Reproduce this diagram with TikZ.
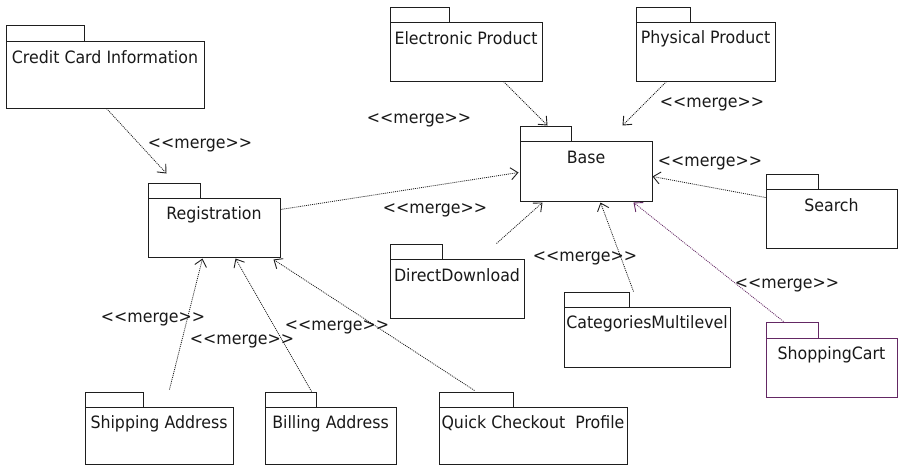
\documentclass[tikz,border=0pt]{standalone}
\usepackage{fontspec}
\setmainfont[FakeStretch=0.93]{DejaVu Sans}
\usetikzlibrary{arrows.meta,fit,calc}
\definecolor{umlpurple}{RGB}{100,40,100}
\definecolor{umlline}{RGB}{30,30,30}
\tikzset{
  pkg/.style={draw=umlline, line width=1pt, inner sep=0pt, fill=white},
  pkgtext/.style={font=\fontsize{17}{19}\selectfont, inner sep=0pt, text=black!90},
  mergelbl/.style={font=\fontsize{17}{19}\selectfont, inner sep=0pt, text=black!90},
  merge/.style={draw=umlline, line width=0.8pt, dash pattern=on 1pt off 1pt,
    -{Straight Barb[length=7pt,width=12pt,line width=0.9pt]}},
}
\begin{document}
\begin{tikzpicture}[x=1pt,y=-1pt]
\useasboundingbox[fill=white] (0,0) rectangle (898,466);

% packages
\node (ccitab) [pkg, fit={(6,25)(84,41)}] {};
\node (cci) [pkg, fit={(6,41)(204,108)}] {};
\node (ccit) [pkgtext] at ($(cci.north)+(0,17)$) {Credit Card Information};

\node (eptab) [pkg, fit={(390,7)(449,22)}] {};
\node (ep) [pkg, fit={(390,22)(542,81)}] {};
\node (ept) [pkgtext] at ($(ep.north)+(0,17)$) {Electronic Product};

\node (pptab) [pkg, fit={(636,7)(690,22)}] {};
\node (pp) [pkg, fit={(636,22)(775,81)}] {};
\node (ppt) [pkgtext] at ($(pp.north)+(0,17)$) {Physical Product};

\node (basetab) [pkg, fit={(520,126)(571,141)}] {};
\node (base) [pkg, fit={(520,141)(652,201)}] {};
\node (baset) [pkgtext] at ($(base.north)+(0,17)$) {Base};

\node (regtab) [pkg, fit={(148,183)(200,198)}] {};
\node (reg) [pkg, fit={(148,198)(280,257)}] {};
\node (regt) [pkgtext] at ($(reg.north)+(0,17)$) {Registration};

\node (searchtab) [pkg, fit={(766,174)(818,189)}] {};
\node (search) [pkg, fit={(766,189)(897,248)}] {};
\node (searcht) [pkgtext] at ($(search.north)+(0,17)$) {Search};

\node (ddtab) [pkg, fit={(390,244)(442,259)}] {};
\node (dd) [pkg, fit={(390,259)(524,318)}] {};
\node (ddt) [pkgtext] at ($(dd.north)+(0,17)$) {DirectDownload};

\node (cmtab) [pkg, fit={(564,292)(629,307)}] {};
\node (cm) [pkg, fit={(564,307)(730,367)}] {};
\node (cmt) [pkgtext] at ($(cm.north)+(0,17)$) {CategoriesMultilevel};

\node (sctab) [pkg, draw=umlpurple, fit={(766,322)(818,338)}] {};
\node (sc) [pkg, draw=umlpurple, fit={(766,338)(897,397)}] {};
\node (sct) [pkgtext] at ($(sc.north)+(0,17)$) {ShoppingCart};

\node (shiptab) [pkg, fit={(85,392)(143,407)}] {};
\node (ship) [pkg, fit={(85,407)(233,464)}] {};
\node (shipt) [pkgtext] at ($(ship.north)+(0,17)$) {Shipping Address};

\node (billtab) [pkg, fit={(265,392)(316,407)}] {};
\node (bill) [pkg, fit={(265,407)(396,464)}] {};
\node (billt) [pkgtext] at ($(bill.north)+(0,17)$) {Billing Address};

\node (quicktab) [pkg, fit={(439,392)(513,407)}] {};
\node (quick) [pkg, fit={(439,407)(627,464)}] {};
\node (quickt) [pkgtext] at ($(quick.north)+(0,17)$) {Quick Checkout\ \ Profile};

% connectors
\draw[merge] ($(cci.south west)+(101,0)$) -- ($(regtab.north west)+(19,-9)$);
\draw[merge] ($(ep.south west)+(114,0)$) -- ($(basetab.north west)+(28,0)$);
\draw[merge] ($(pp.south west)+(31,0)$) -- ($(base.north west)+(103,-15)$);
\draw[merge] ($(reg.north east)+(0,12)$) -- ($(base.north west)+(-1,32)$);
\draw[merge] ($(search.north west)+(0,9)$) -- ($(base.north east)+(0,36)$);
\draw[merge] ($(dd.north west)+(107,-15)$) -- ($(base.south west)+(23,1)$);
\draw[merge] ($(cmtab.north west)+(70,0)$) -- ($(base.south west)+(81,1)$);
\draw[merge, draw=umlpurple] ($(sctab.north west)+(18,0)$) -- ($(base.south west)+(114,1)$);
\draw[merge] ($(shiptab.north west)+(85,-2)$) -- ($(reg.south west)+(55,1)$);
\draw[merge] ($(billtab.north east)+(-5,0)$) -- ($(reg.south west)+(88,1)$);
\draw[merge] ($(quicktab.north west)+(36,-1)$) -- ($(reg.south east)+(-7,2)$);

% labels
\node (m1) [mergelbl] at (200,145) {<{}<merge>{}>};
\node (m2) [mergelbl] at (419,120) {<{}<merge>{}>};
\node (m3) [mergelbl] at (712,104) {<{}<merge>{}>};
\node (m4) [mergelbl] at (710,163) {<{}<merge>{}>};
\node (m5) [mergelbl] at (435,210) {<{}<merge>{}>};
\node (m6) [mergelbl] at (585,258) {<{}<merge>{}>};
\node (m7) [mergelbl] at (787,285) {<{}<merge>{}>};
\node (m8) [mergelbl] at (153,319) {<{}<merge>{}>};
\node (m9) [mergelbl] at (242,341) {<{}<merge>{}>};
\node (m10) [mergelbl] at (337,327) {<{}<merge>{}>};
\end{tikzpicture}
\end{document}
